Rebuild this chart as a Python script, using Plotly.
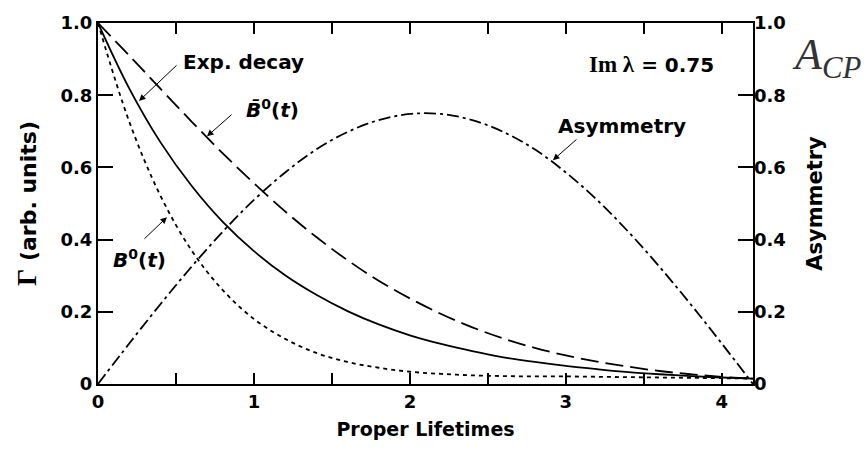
import plotly.graph_objects as go

# Proper lifetimes (sample points)
t = [0.0, 0.2, 0.4, 0.6, 0.8, 1.0, 1.2, 1.4, 1.6, 1.8, 2.0,
     2.2, 2.4, 2.6, 2.8, 3.0, 3.2, 3.4, 3.6, 3.8, 4.0, 4.2]

exp_decay = [1.000, 0.819, 0.670, 0.549, 0.449, 0.368, 0.301, 0.247, 0.202, 0.165, 0.135,
             0.111, 0.091, 0.074, 0.061, 0.050, 0.041, 0.033, 0.027, 0.022, 0.018, 0.015]

b0 = [1.000, 0.727, 0.522, 0.370, 0.260, 0.180, 0.125, 0.086, 0.061, 0.045, 0.034,
      0.028, 0.024, 0.022, 0.021, 0.021, 0.020, 0.019, 0.018, 0.017, 0.016, 0.015]

b0bar = [1.000, 0.910, 0.818, 0.727, 0.639, 0.556, 0.478, 0.407, 0.343, 0.286, 0.237,
         0.194, 0.157, 0.126, 0.100, 0.079, 0.062, 0.048, 0.036, 0.027, 0.020, 0.015]

asymmetry = [0.000, 0.112, 0.221, 0.325, 0.422, 0.510, 0.586, 0.650, 0.698, 0.731, 0.748,
             0.748, 0.731, 0.698, 0.650, 0.586, 0.510, 0.422, 0.325, 0.221, 0.112, 0.000]

x_tickvals = [0, 0.5, 1, 1.5, 2, 2.5, 3, 3.5, 4]
x_ticktext = ["0", " ", "1", " ", "2", " ", "3", " ", "4"]
y_tickvals = [0, 0.2, 0.4, 0.6, 0.8, 1.0]
y_ticktext = ["0", "0.2", "0.4", "0.6", "0.8", "1.0"]

SANS = "DejaVu Sans"
SERIF = "Liberation Serif"
LW = 1.8

fig = go.Figure()
fig.add_trace(go.Scatter(x=t, y=exp_decay, mode="lines", line=dict(color="black", width=LW, shape="spline"),
                         name="Exp. decay"))
fig.add_trace(go.Scatter(x=t, y=b0bar, mode="lines",
                         line=dict(color="black", width=LW, dash="18px,7px", shape="spline"), name="B0bar"))
fig.add_trace(go.Scatter(x=t, y=b0, mode="lines",
                         line=dict(color="black", width=LW, dash="4px,4px", shape="spline"), name="B0"))
fig.add_trace(go.Scatter(x=t, y=asymmetry, mode="lines", yaxis="y2",
                         line=dict(color="black", width=LW, dash="12px,4px,3px,4px", shape="spline"),
                         name="Asymmetry"))

tickfont = dict(family=SANS, size=18, color="black")
bold = lambda s: "<b>%s</b>" % s if s.strip() else s
fig.update_layout(
    width=864, height=454,
    margin=dict(l=98, r=111, t=18, b=70),
    paper_bgcolor="white", plot_bgcolor="white",
    showlegend=False,
    xaxis=dict(range=[0, 4.2], tickvals=x_tickvals, ticktext=[bold(s) for s in x_ticktext],
               ticks="inside", ticklen=11, tickwidth=1.8, tickcolor="black",
               showline=True, linecolor="black", linewidth=2, mirror="ticks",
               showgrid=False, zeroline=False, tickfont=tickfont,
               title=dict(text="<b>Proper Lifetimes</b>", font=dict(family=SANS, size=19, color="black"),
                          standoff=12)),
    yaxis=dict(range=[0, 1.0], tickvals=y_tickvals, ticktext=[bold(s) for s in y_ticktext],
               ticks="inside", ticklen=15, tickwidth=1.8, tickcolor="black",
               showline=True, linecolor="black", linewidth=2, mirror="ticks",
               showgrid=False, zeroline=False, tickfont=tickfont,
               title=dict(text="<span style='font-family:Liberation Serif;font-size:27px;font-weight:bold'>Γ</span>"
                               "<b> (arb. units)</b>",
                          font=dict(family=SANS, size=22, color="black"), standoff=18)),
    yaxis2=dict(range=[0, 1.0], overlaying="y", side="right", tickvals=y_tickvals,
                ticktext=[bold(s) for s in y_ticktext],
                ticks="", showline=False, showgrid=False, zeroline=False, tickfont=tickfont,
                title=dict(text="<b>Asymmetry</b>", font=dict(family=SANS, size=21, color="black"),
                           standoff=22)),
)

ann_font = dict(family=SANS, size=20, color="black")
labels = [
    ("<b>Exp. decay</b>", 0.936, 0.893),
    ("<b><i>B̄</i><sup>0</sup>(<i>t</i>)</b>", 1.12, 0.762),
    ("<b>Asymmetry</b>", 3.36, 0.716),
    ("<b><i>B</i><sup>0</sup>(<i>t</i>)</b>", 0.263, 0.347),
]
for text, x, y in labels:
    fig.add_annotation(x=x, y=y, xref="x", yref="y", text=text, showarrow=False, font=ann_font)

arrows = [
    (0.263, 0.784, 39, -37),
    (0.699, 0.686, 26, -23),
    (2.917, 0.620, 25, -22),
    (0.442, 0.462, -24, 23),
]
for x, y, ax, ay in arrows:
    fig.add_annotation(x=x, y=y, xref="x", yref="y", text="", showarrow=True, ax=ax, ay=ay,
                       arrowhead=2, arrowsize=1.3, arrowwidth=1, arrowcolor="black")

fig.add_annotation(x=3.55, y=0.885, xref="x", yref="y",
                   text="<span style='font-family:Liberation Serif;font-size:23px;font-weight:bold'>Im λ</span>"
                        "<b> = 0.75</b>",
                   showarrow=False, font=dict(family=SANS, size=20, color="black"))

fig.add_annotation(x=1.0565, y=0.905, xref="paper", yref="paper", xanchor="left", yanchor="middle",
                   text="<i>A</i><sub><i>CP</i></sub>", showarrow=False,
                   font=dict(family=SERIF, size=44, color="#333333"))

fig.write_html("out.html")
